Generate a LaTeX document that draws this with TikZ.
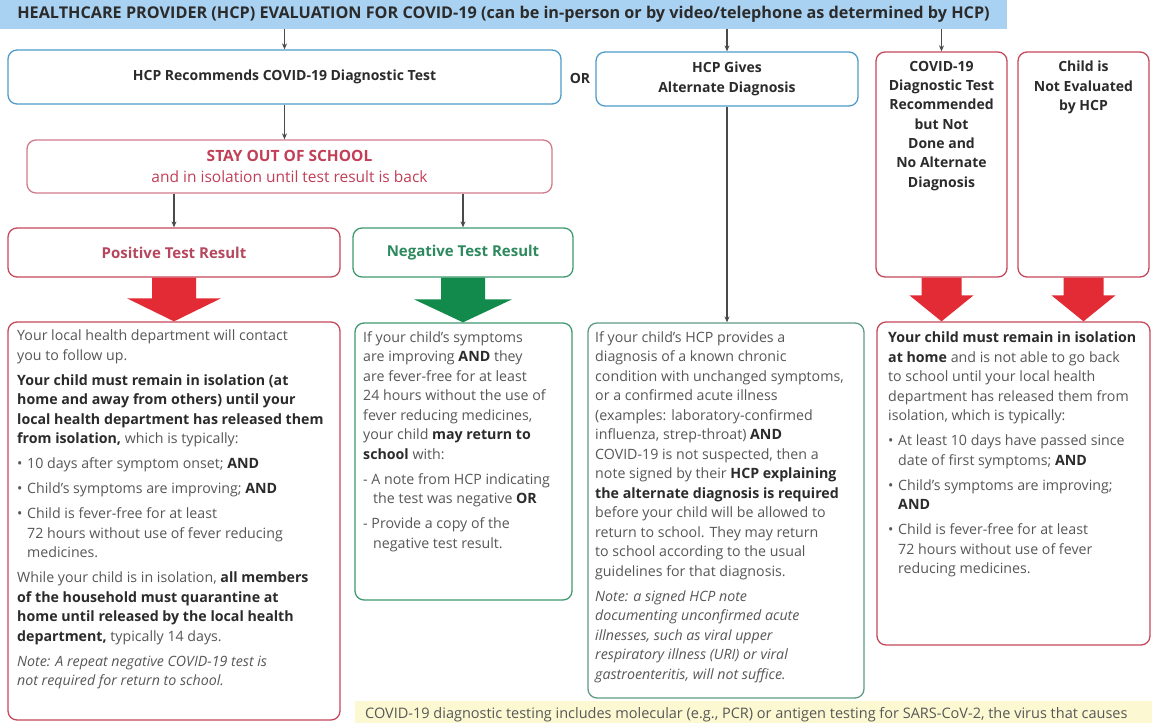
\documentclass[tikz,border=0pt]{standalone}
\usepackage{fontspec}
\setmainfont{Open Sans}
\usepackage{tikz}
\usetikzlibrary{arrows.meta,calc}

\definecolor{barblue}{HTML}{A9D1F2}
\definecolor{hcpblue}{HTML}{4F9CC9}
\definecolor{boxred}{HTML}{C6485A}
\definecolor{stayred}{HTML}{D27C8B}
\definecolor{staytxt}{HTML}{C23F58}
\definecolor{posred}{HTML}{B5475E}
\definecolor{boxgreen}{HTML}{3F9A70}
\definecolor{altgreen}{HTML}{5E9A88}
\definecolor{negtxt}{HTML}{2E8A5E}
\definecolor{arrred}{HTML}{E32B35}
\definecolor{arrgreen}{HTML}{128A4C}
\definecolor{footyel}{HTML}{FCF9D2}
\definecolor{ink}{HTML}{2B2B2B}
\definecolor{txt}{HTML}{575757}
\definecolor{lineg}{HTML}{4A4A4A}

\newcommand{\titlefont}{\fontsize{16.2}{19}\selectfont\bfseries}
\newcommand{\headfont}{\fontsize{14}{19.3}\selectfont\bfseries}
\newcommand{\bodyfont}{\fontsize{14.2}{19.5}\selectfont}
\newcommand{\hb}[1]{{\bfseries\color{ink}#1}}
\newcommand{\bul}{\makebox[10pt][l]{\textbullet}}
\newcommand{\ind}{\hspace*{10pt}}
% from, to, shaft half width, head half width, head length, colour
\newcommand{\fatarrow}[6]{%
  \fill[#6] ($(#1)+(-#3,0)$) -- ($(#1)+(#3,0)$) -- ($(#2)+(#3,-#5)$)
    -- ($(#2)+(#4,-#5)$) -- (#2) -- ($(#2)+(-#4,-#5)$) -- ($(#2)+(-#3,-#5)$) -- cycle;}

\tikzstyle{box}=[
	draw,
	rounded corners=9pt,
	line width=1.3pt,
	inner sep=0pt
]
\tikzstyle{bluebox}=[box, draw=hcpblue]
\tikzstyle{redbox}=[box, draw=boxred]
\tikzstyle{greenbox}=[box, draw=boxgreen]
\tikzstyle{hdtext}=[
	font=\headfont,
	align=center,
	text=ink
]
\tikzstyle{bodytext}=[
	font=\bodyfont,
	align=left,
	text=txt,
	inner sep=0pt,
	anchor=north west
]
\tikzstyle{conn}=[
	-{Stealth[length=6pt,width=5pt]},
	draw=lineg,
	line width=1.1pt
]

\begin{document}
\begin{tikzpicture}[x=1pt, y=-1pt]
\useasboundingbox (0,0) rectangle (1152,723);
\fill[white] (0,0) rectangle (1152,723);

% top row
\node[fill=barblue, minimum width=1007, minimum height=29, inner sep=0pt, font=\titlefont, text=ink] (title) at (503.5,14.5)
    {HEALTHCARE PROVIDER (HCP) EVALUATION FOR COVID-19 (can be in-person or by video/telephone as determined by HCP)};

\node[bluebox, hdtext, minimum width=553, minimum height=54] (hcprec) at (284.5,77) {HCP Recommends COVID-19 Diagnostic Test};
\node[hdtext] (or) at (580,78) {OR};
\node[bluebox, hdtext, minimum width=262, minimum height=54] (hcpalt) at (727,79) {HCP Gives\\Alternate Diagnosis};
\node[redbox, minimum width=131, minimum height=225] (covid) at (941.5,164.5) {};
\node[redbox, minimum width=131, minimum height=225] (child) at (1083.5,164.5) {};
\node[hdtext, inner sep=0pt, anchor=north] (covidtxt) at (941.5,61)
    {COVID-19\\Diagnostic Test\\Recommended\\but Not\\Done and\\No Alternate\\Diagnosis};
\node[hdtext, inner sep=0pt, anchor=north] (childtxt) at (1083.5,61) {Child is\\Not Evaluated\\by HCP};

% isolation and results
\node[box, draw=stayred, minimum width=525, minimum height=53, align=center, text=staytxt,
      font=\fontsize{15.5}{21}\selectfont] (stay) at (289.5,166.5)
    {{\bfseries STAY OUT OF SCHOOL}\\and in isolation until test result is back};
\node[redbox, minimum width=332, minimum height=49, font=\fontsize{15}{18}\selectfont\bfseries, text=posred] (posres) at (174,252.5) {Positive Test Result};
\node[greenbox, minimum width=220, minimum height=49, font=\fontsize{15}{18}\selectfont\bfseries, text=negtxt] (negres) at (463,252.5) {Negative Test Result};

% detail boxes
\node[redbox, minimum width=332, minimum height=398] (posnote) at (174,521) {};
\node[greenbox, minimum width=217, minimum height=277] (negnote) at (463.5,461.5) {};
\node[box, draw=altgreen, minimum width=276, minimum height=375] (altnote) at (726,510.5) {};
\node[redbox, minimum width=273, minimum height=323] (isonote) at (1013.5,483.5) {};

\node[bodytext] (postxt) at (17,330) {%
Your local health department will contact\\
you to follow up.\\[5.5pt]
\hb{Your child must remain in isolation (at}\\
\hb{home and away from others) until your}\\
\hb{local health department has released them}\\
\hb{from isolation,} which is typically:\\[5.5pt]
\bul 10 days after symptom onset; \hb{AND}\\[5.5pt]
\bul Child's symptoms are improving; \hb{AND}\\[5.5pt]
\bul Child is fever-free for at least\\
\ind 72 hours without use of fever reducing\\
\ind medicines.\\[5.5pt]
While your child is in isolation, \hb{all members}\\
\hb{of the household must quarantine at}\\
\hb{home until released by the local health}\\
\hb{department,} typically 14 days.\\[5.5pt]
\textit{Note: A repeat negative COVID-19 test is}\\
\textit{not required for return to school.}};

\node[bodytext] (negtxt) at (363,331) {%
If your child's symptoms\\
are improving \hb{AND} they\\
are fever-free for at least\\
24 hours without the use of\\
fever reducing medicines,\\
your child \hb{may return to}\\
\hb{school} with:\\[5.5pt]
- A note from HCP indicating\\
\ind the test was negative \hb{OR}\\[5.5pt]
- Provide a copy of the\\
\ind negative test result.};

\node[bodytext] (alttxt) at (595,331) {%
If your child's HCP provides a\\
diagnosis of a known chronic\\
condition with unchanged symptoms,\\
or a confirmed acute illness\\
(examples: laboratory-confirmed\\
influenza, strep-throat) \hb{AND}\\
COVID-19 is not suspected, then a\\
note signed by their \hb{HCP explaining}\\
\hb{the alternate diagnosis is required}\\
before your child will be allowed to\\
return to school. They may return\\
to school according to the usual\\
guidelines for that diagnosis.\\[5.5pt]
\textit{Note: a signed HCP note}\\
\textit{documenting unconfirmed acute}\\
\textit{illnesses, such as viral upper}\\
\textit{respiratory illness (URI) or viral}\\
\textit{gastroenteritis, will not suffice.}};

\node[bodytext] (isotxt) at (888,332) {%
\hb{Your child must remain in isolation}\\
\hb{at home} and is not able to go back\\
to school until your local health\\
department has released them from\\
isolation, which is typically:\\[5.5pt]
\bul At least 10 days have passed since\\
\ind date of first symptoms; \hb{AND}\\[5.5pt]
\bul Child's symptoms are improving;\\
\ind \hb{AND}\\[5.5pt]
\bul Child is fever-free for at least\\
\ind 72 hours without use of fever\\
\ind reducing medicines.};

% footnote strip
\node[fill=footyel, minimum width=797, minimum height=30, inner sep=0pt, anchor=north west] (footer) at (355,701) {};
\node[font=\fontsize{14.5}{16}\selectfont, text=txt, anchor=west, inner sep=0pt] (foottxt) at (365,715)
    {COVID-19 diagnostic testing includes molecular (e.g., PCR) or antigen testing for SARS-CoV-2, the virus that causes};

% thin connectors
\foreach \b in {hcprec, hcpalt, covid}{
    \draw[conn] (title.south -| \b.north) -- (\b.north);
}
\draw[conn] (hcprec.south) -- (hcprec.south |- stay.north);
\foreach \b in {posres, negres}{
    \draw[conn] (\b.north |- stay.south) -- (\b.north);
}
\draw[conn] (hcpalt.south) -- (hcpalt.south |- altnote.north);

% fat arrows
\coordinate (postip) at (posres.south |- posnote.north);
\coordinate (negtip) at (negres.south |- negnote.north);
\coordinate (covtip) at (covid.south |- isonote.north);
\coordinate (chdtip) at (child.south |- isonote.north);
\fatarrow{posres.south}{postip}{22}{47}{23}{arrred}
\fatarrow{negres.south}{negtip}{22}{49}{23}{arrgreen}
\fatarrow{covid.south}{covtip}{20}{32}{26}{arrred}
\fatarrow{child.south}{chdtip}{20}{32}{26}{arrred}
\end{tikzpicture}
\end{document}
